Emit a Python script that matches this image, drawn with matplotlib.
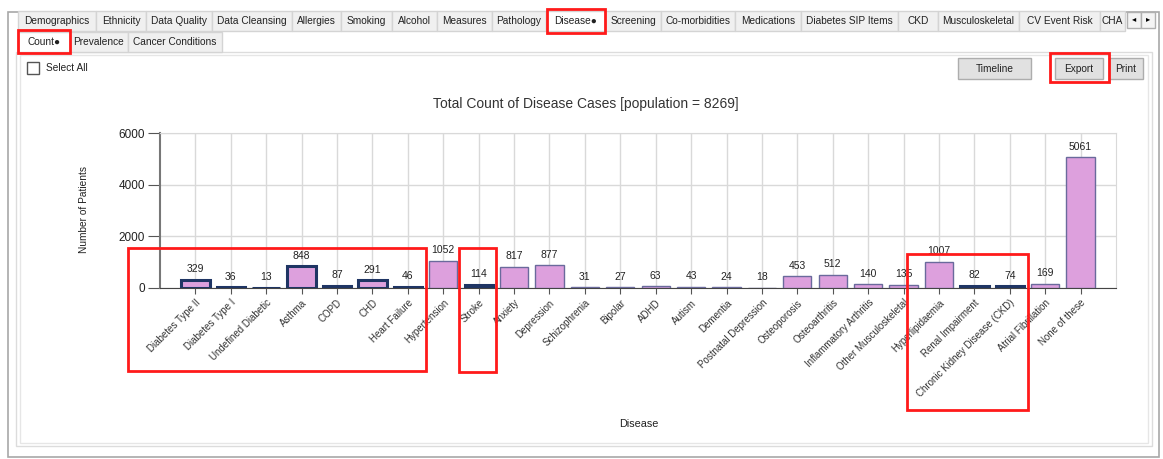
import matplotlib.pyplot as plt
from matplotlib.patches import Rectangle

plt.rcParams['font.family'] = ['Liberation Sans', 'DejaVu Sans']

W, H = 1163, 459

# chart data
diseases = ['Diabetes Type II', 'Diabetes Type I', 'Undefined Diabetic', 'Asthma', 'COPD', 'CHD',
            'Heart Failure', 'Hypertension', 'Stroke', 'Anxiety', 'Depression', 'Schizophrenia',
            'Bipolar', 'ADHD', 'Autism', 'Dementia', 'Postnatal Depression', 'Osteoporosis',
            'Osteoarthritis', 'Inflammatory Arthritis', 'Other Musculoskeletal', 'Hyperlipidaemia',
            'Renal Impairment', 'Chronic Kidney Disease (CKD)', 'Atrial Fibrillation', 'None of these']
counts = [329, 36, 13, 848, 87, 291, 46, 1052, 114, 817, 877, 31, 27, 63, 43, 24, 18, 453,
          512, 140, 135, 1007, 82, 74, 169, 5061]
selected = ['Diabetes Type II', 'Diabetes Type I', 'Undefined Diabetic', 'Asthma', 'COPD', 'CHD',
            'Heart Failure', 'Stroke', 'Renal Impairment', 'Chronic Kidney Disease (CKD)']
yticks = [0, 2000, 4000, 6000]

# tab strip
tabs_top = ['Demographics', 'Ethnicity', 'Data Quality', 'Data Cleansing', 'Allergies', 'Smoking',
            'Alcohol', 'Measures', 'Pathology', 'Disease\u25cf', 'Screening', 'Co-morbidities',
            'Medications', 'Diabetes SIP Items', 'CKD', 'Musculoskeletal', 'CV Event Risk', 'CHA']
tabs_top_x = [18, 96, 146, 212, 292, 341, 392, 437, 492, 546, 605, 661, 735, 801, 898, 938, 1019, 1100, 1125]
tabs_sub = ['Count\u25cf', 'Prevalence', 'Cancer Conditions']
tabs_sub_x = [18, 70, 128, 222]


def fx(x):
    return x / W


def fy(y):
    return 1 - y / H


fig = plt.figure(figsize=(W / 100, H / 100), dpi=100)


def box(x0, y0, x1, y1, fc='none', ec='#bdbdbd', lw=1, z=0):
    fig.add_artist(Rectangle((fx(x0), fy(y1)), fx(x1 - x0), (y1 - y0) / H,
                             facecolor=fc, edgecolor=ec, linewidth=lw, zorder=z))


# window frame
box(8, 12, 1159, 457, fc='white', ec='#a8a8a8', lw=1.2)
box(16, 52, 1152, 446, ec='#dcdcdc', lw=1)
box(20, 55, 1148, 443, ec='#e6e6e6', lw=1)

# tabs
for i, name in enumerate(tabs_top):
    x0, x1 = tabs_top_x[i], tabs_top_x[i + 1]
    fc = 'white' if name.startswith('Disease') else '#f0f0f0'
    box(x0, 11, x1, 31, fc=fc, ec='#d4d4d4', z=1)
    fig.text(fx((x0 + x1) / 2), fy(21), name, fontsize=7.3, ha='center', va='center',
             color='#222222', clip_on=False)
for i, name in enumerate(tabs_sub):
    x0, x1 = tabs_sub_x[i], tabs_sub_x[i + 1]
    fc = 'white' if i == 0 else '#f0f0f0'
    box(x0, 32, x1, 52, fc=fc, ec='#d4d4d4', z=1)
    fig.text(fx((x0 + x1) / 2), fy(42), name, fontsize=7.3, ha='center', va='center', color='#222222')
# scroll arrows
box(1127, 12, 1141, 28, fc='#f4f4f4', ec='#b0b0b0', z=1)
box(1141, 12, 1155, 28, fc='#f4f4f4', ec='#b0b0b0', z=1)
fig.text(fx(1134), fy(20), '\u25c2', fontsize=6, ha='center', va='center')
fig.text(fx(1148), fy(20), '\u25b8', fontsize=6, ha='center', va='center')

# checkbox + buttons
box(27, 62, 39, 74, fc='white', ec='#555555', z=1)
fig.text(fx(46), fy(68), 'Select All', fontsize=7.3, va='center', color='#222222')
for label, x0, x1 in [('Timeline', 958, 1031), ('Export', 1055, 1103), ('Print', 1109, 1143)]:
    box(x0, 58, x1, 79, fc='#e1e1e1', ec='#adadad', z=1)
    fig.text(fx((x0 + x1) / 2), fy(68.5), label, fontsize=7.3, ha='center', va='center', color='#222222')

# chart
ax = fig.add_axes([fx(160), fy(288), fx(1116 - 160), (288 - 133) / H])
x = range(len(diseases))
edge = ['#1f3564' if d in selected else '#6a6a9c' for d in diseases]
lws = [2.2 if d in selected else 1.0 for d in diseases]
bars = ax.bar(x, counts, width=0.8, color='#dda0dd', edgecolor=edge, linewidth=lws, zorder=3)
for b, v in zip(bars, counts):
    ax.annotate(str(v), (b.get_x() + b.get_width() / 2, v), xytext=(0, 4), textcoords='offset points',
                ha='center', va='bottom', fontsize=7.5, color='#222222')

ax.set_xlim(-1, len(diseases))
ax.set_ylim(0, 6000)
ax.set_yticks(yticks)
ax.set_xticks(list(x))
ax.set_xticklabels(diseases, rotation=45, ha='right', va='top', rotation_mode='anchor',
                   fontsize=7, color='#333333')
ax.tick_params(axis='y', labelsize=8.5, length=9, color='#555555', labelcolor='#222222', pad=2)
ax.tick_params(axis='x', length=4, color='#555555', pad=3)
ax.grid(True, color='#d9d9d9', linewidth=1, zorder=0)
for s in ['top', 'right']:
    ax.spines[s].set_color('#d9d9d9')
ax.spines['left'].set_color('#777777')
ax.spines['left'].set_linewidth(1.5)
ax.spines['bottom'].set_color('#444444')

fig.text(fx(586), fy(104), 'Total Count of Disease Cases [population = 8269]', fontsize=10,
         ha='center', va='center', color='#333333')
fig.text(fx(84), fy(210), 'Number of Patients', fontsize=7.3, rotation=90, ha='center', va='center',
         color='#222222')
fig.text(fx(639), fy(424), 'Disease', fontsize=7.8, ha='center', va='center', color='#222222')

# red highlight boxes
for x0, y0, x1, y1 in [(547, 9, 605, 33), (18, 30, 70, 53), (1050, 53, 1109, 82),
                       (128, 248, 426, 371), (459, 248, 496, 372), (907, 254, 1028, 410)]:
    box(x0, y0, x1, y1, ec='#ff1a1a', lw=2, z=10)

fig.savefig('out.png', dpi=100)
